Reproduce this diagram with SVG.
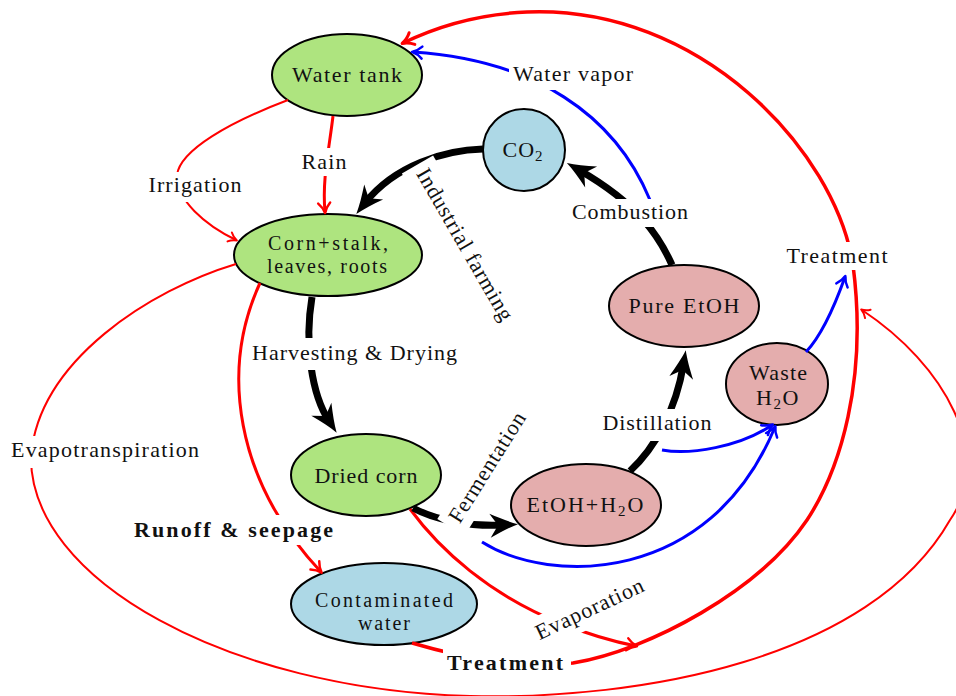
<svg xmlns="http://www.w3.org/2000/svg" width="956" height="696" viewBox="0 0 956 696">
<style>
text { font-family: "Liberation Serif", "Times New Roman", serif; font-size: 22px; fill: #111; text-anchor: middle; }
.b { font-weight: bold; }
.two { font-size: 20px; }
.node { stroke: #000; stroke-width: 2; }
.green { fill: #AEE47F; }
.lblue { fill: #ADD8E6; }
.pink { fill: #E4ADAD; }
.k { fill: none; stroke: #000; stroke-width: 7; }
.r { fill: none; stroke: #f00; stroke-width: 3; }
.rt { fill: none; stroke: #f00; stroke-width: 2; }
.rT { fill: none; stroke: #f00; stroke-width: 3.5; }
.bl { fill: none; stroke: #00f; stroke-width: 3; }
.bg { fill: #fff; }
</style>
<defs>
<marker id="hK" viewBox="-30 -14 32 28" markerWidth="32" markerHeight="28" refX="-14" refY="0" orient="auto" markerUnits="userSpaceOnUse" style="overflow:visible">
<path d="M0,0 C-8,-2.5 -18,-7 -28,-12 L-20,0 L-28,12 C-18,7 -8,2.5 0,0 Z" fill="#000"/>
</marker>
<marker id="aR" viewBox="-12 -8 14 16" markerWidth="14" markerHeight="16" refX="-1" refY="0" orient="auto" markerUnits="userSpaceOnUse" style="overflow:visible">
<path d="M-10,-6 C-6,-2 -2,-0.6 0,0 C-2,0.6 -6,2 -10,6" fill="none" stroke="#f00" stroke-width="2.5" stroke-linecap="round" stroke-linejoin="round"/>
</marker>
<marker id="aRt" viewBox="-12 -8 14 16" markerWidth="14" markerHeight="16" refX="-1" refY="0" orient="auto" markerUnits="userSpaceOnUse" style="overflow:visible">
<path d="M-8,-5 C-5,-1.6 -1.6,-0.5 0,0 C-1.6,0.5 -5,1.6 -8,5" fill="none" stroke="#f00" stroke-width="2" stroke-linecap="round" stroke-linejoin="round"/>
</marker>
<marker id="aRT" viewBox="-14 -9 16 18" markerWidth="16" markerHeight="18" refX="-1" refY="0" orient="auto" markerUnits="userSpaceOnUse" style="overflow:visible">
<path d="M-11,-6.5 C-7,-2.2 -2.2,-0.6 0,0 C-2.2,0.6 -7,2.2 -11,6.5" fill="none" stroke="#f00" stroke-width="3" stroke-linecap="round" stroke-linejoin="round"/>
</marker>
<marker id="aB" viewBox="-12 -8 14 16" markerWidth="14" markerHeight="16" refX="-1" refY="0" orient="auto" markerUnits="userSpaceOnUse" style="overflow:visible">
<path d="M-10,-6 C-6,-2 -2,-0.6 0,0 C-2,0.6 -6,2 -10,6" fill="none" stroke="#00f" stroke-width="2.5" stroke-linecap="round" stroke-linejoin="round"/>
</marker>
</defs>
<rect width="956" height="696" fill="#fff"/>

<g id="water-tank"><ellipse class="node green" cx="347" cy="75" rx="75" ry="41"/><text x="347" y="82" textLength="110" lengthAdjust="spacing">Water tank</text></g>
<g id="co2"><circle class="node lblue" cx="524" cy="150" r="41"/><text x="523" y="157" letter-spacing="1">CO<tspan font-size="15" dy="4">2</tspan></text></g>
<g id="corn"><ellipse class="node green" cx="328" cy="255" rx="94" ry="41"/><text class="two" x="328" y="249.5" textLength="120" lengthAdjust="spacing">Corn+stalk,</text><text class="two" x="327" y="272.5" textLength="120" lengthAdjust="spacing">leaves, roots</text></g>
<g id="dried-corn"><ellipse class="node green" cx="366" cy="475" rx="75" ry="41"/><text x="366" y="483" textLength="103" lengthAdjust="spacing">Dried corn</text></g>
<g id="etoh-h2o"><ellipse class="node pink" cx="586" cy="505" rx="75" ry="41"/><text x="586" y="512" letter-spacing="2">EtOH+H<tspan font-size="15" dy="4">2</tspan><tspan dy="-4">O</tspan></text></g>
<g id="pure-etoh"><ellipse class="node pink" cx="684" cy="306" rx="75" ry="41"/><text x="684" y="313" textLength="111" lengthAdjust="spacing">Pure EtOH</text></g>
<g id="waste-h2o"><ellipse class="node pink" cx="777" cy="384" rx="51" ry="41"/><text x="778" y="380" textLength="58" lengthAdjust="spacing">Waste</text><text x="778" y="405" letter-spacing="1.5">H<tspan font-size="15" dy="4">2</tspan><tspan dy="-4">O</tspan></text></g>
<g id="contaminated-water"><ellipse class="node lblue" cx="384" cy="604" rx="93" ry="41"/><text class="two" x="384" y="606.5" textLength="138" lengthAdjust="spacing">Contaminated</text><text class="two" x="384" y="629.5" textLength="52" lengthAdjust="spacing">water</text></g>

<g id="connectors">
<path class="r" d="M333,116 C329,150 322,180 325,212" marker-end="url(#aR)"/>
<path class="rt" d="M288,100 C230,122 180,150 177,175 C176,200 205,225 236,240" marker-end="url(#aRt)"/>
<path class="rt" d="M236,264 C150,290 40,360 31,455 C28,580 230,690 470,696 C640,700 870,660 950,520 C995,455 945,365 862,310" marker-end="url(#aRt)"/>
<path class="r" d="M260,283 C220,370 235,480 321,572" marker-end="url(#aR)"/>
<path class="rT" d="M412,643 C470,660 520,668 573,663 C650,650 760,590 807,520 C840,470 868,380 853,265 C835,150 700,5 527,12 C480,14 440,25 403,43" marker-end="url(#aRT)"/>
<path class="r" d="M410,509 C440,550 490,595 560,623 C585,633 610,641 636,646" marker-end="url(#aR)"/>
<path class="bl" d="M650,200 C615,115 535,60 413,52" marker-end="url(#aB)"/>
<path class="bl" d="M662,450 C690,455 740,447 772,425" marker-end="url(#aB)"/>
<path class="bl" d="M482,542 C550,585 710,585 775,427" marker-end="url(#aB)"/>
<path class="bl" d="M806,352 C822,335 835,305 845,277" marker-end="url(#aB)"/>
<path class="k" d="M483,149 C445,150 395,165 365,203" marker-end="url(#hK)"/>
<path class="k" d="M312,297 C304,345 312,395 329,421" marker-end="url(#hK)"/>
<path class="k" d="M413,508 C435,520 470,527 504,525" marker-end="url(#hK)"/>
<path class="k" d="M630,471 C655,448 676,410 683.5,364" marker-end="url(#hK)"/>
<path class="k" d="M672,265 C660,238 640,205 579,170" marker-end="url(#hK)"/>
</g>

<g id="edge-labels">
<g><rect class="bg" x="298" y="148" width="52" height="28"/><text x="324" y="169" textLength="45" lengthAdjust="spacing">Rain</text></g>
<g><rect class="bg" x="145" y="172" width="100" height="30"/><text x="195" y="192" textLength="93" lengthAdjust="spacing">Irrigation</text></g>
<g><rect class="bg" x="509" y="60" width="126" height="30"/><text x="573" y="81" textLength="120" lengthAdjust="spacing">Water vapor</text></g>
<g><rect class="bg" x="568" y="199" width="124" height="28"/><text x="630" y="219" textLength="116" lengthAdjust="spacing">Combustion</text></g>
<g><rect class="bg" x="783" y="242" width="108" height="28"/><text x="837" y="263" textLength="101" lengthAdjust="spacing">Treatment</text></g>
<g><rect class="bg" x="598" y="409" width="118" height="32"/><text x="657" y="430" textLength="109" lengthAdjust="spacing">Distillation</text></g>
<g><rect class="bg" x="248" y="338" width="214" height="32"/><text x="354.5" y="360" textLength="205" lengthAdjust="spacing">Harvesting &amp; Drying</text></g>
<g><rect class="bg" x="6" y="436" width="198" height="32"/><text x="105" y="457" textLength="188" lengthAdjust="spacing">Evapotranspiration</text></g>
<g><rect class="bg" x="130" y="515" width="208" height="30"/><text class="b" x="233.5" y="537" textLength="199" lengthAdjust="spacing">Runoff &amp; seepage</text></g>
<g><rect class="bg" x="443" y="646" width="128" height="32"/><text class="b" x="505" y="670" textLength="116" lengthAdjust="spacing">Treatment</text></g>
<g transform="translate(464,245) rotate(60)"><rect class="bg" x="-93" y="-18" width="186" height="36"/><text x="0" y="6" textLength="172" lengthAdjust="spacing">Industrial farming</text></g>
<g transform="translate(488,468) rotate(-58)"><rect class="bg" x="-70" y="-16" width="140" height="32"/><text x="0" y="6" textLength="126" lengthAdjust="spacing">Fermentation</text></g>
<g transform="translate(590,610) rotate(-25)"><rect class="bg" x="-62" y="-17" width="124" height="34"/><text x="0" y="6" textLength="117" lengthAdjust="spacing">Evaporation</text></g>
</g>
</svg>
